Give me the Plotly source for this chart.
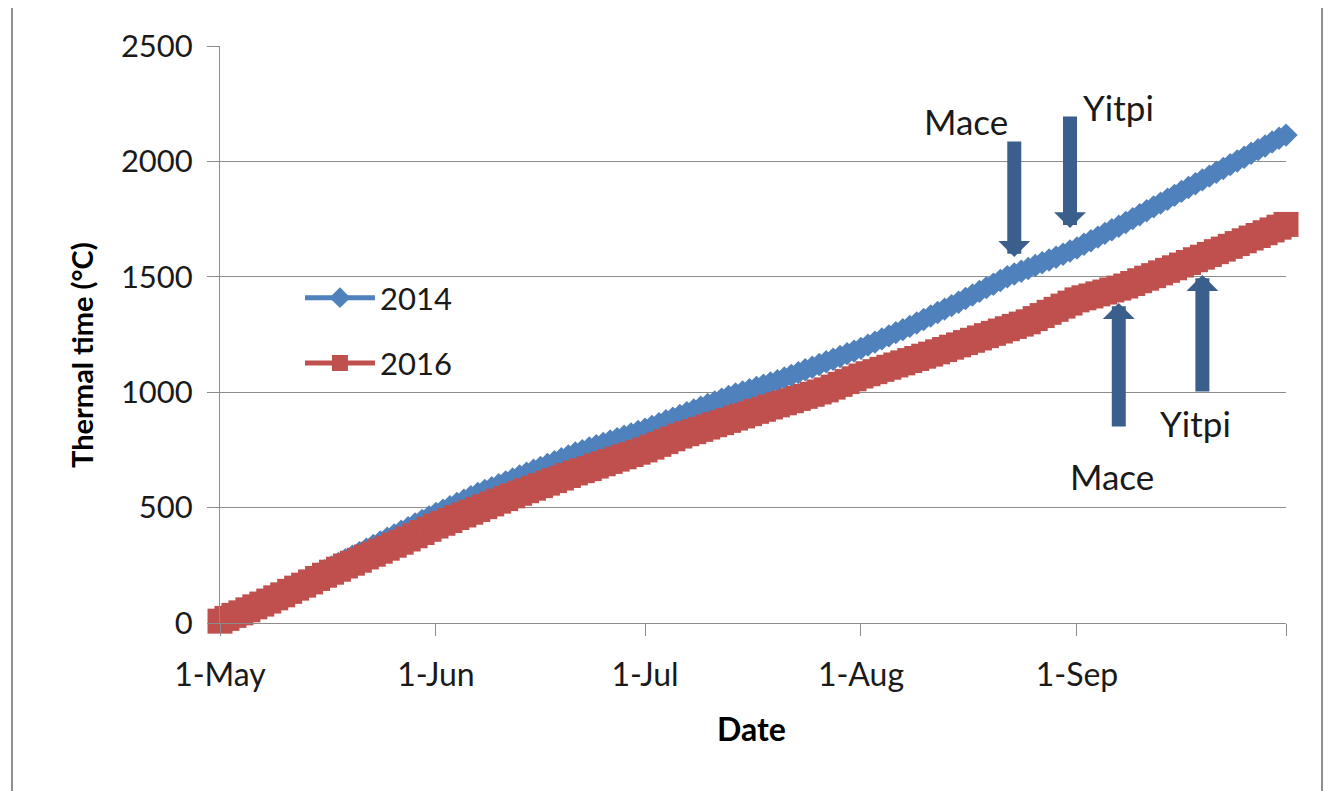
import pandas as pd
import plotly.graph_objects as go

# ---- data (cumulative thermal time, degC days), daily from 1-May to 1-Oct ----
dates = pd.date_range("2014-05-01", "2014-10-01", freq="D")

tt_2014 = [
    # May
    5, 19, 34, 48, 63, 77, 92, 106, 121, 135, 150, 165, 181, 196, 212, 227, 243, 258, 274, 289,
    305, 320, 336, 351, 367, 382, 398, 413, 429, 444, 460,
    # Jun
    475, 489, 504, 518, 532, 547, 561, 574, 586, 599, 611, 624, 637, 649, 662, 674, 687, 699, 712, 724,
    737, 747, 758, 768, 778, 789, 799, 809, 819, 830,
    # Jul
    840, 852, 864, 876, 887, 899, 911, 923, 935, 947, 958, 970, 982, 992, 1001, 1011, 1021, 1030, 1040, 1050,
    1062, 1073, 1085, 1097, 1108, 1120, 1132, 1143, 1155, 1167, 1178,
    # Aug
    1190, 1204, 1217, 1231, 1244, 1258, 1271, 1285, 1300, 1315, 1330, 1345, 1360, 1375, 1390, 1406, 1421, 1437, 1453, 1468,
    1484, 1500, 1512, 1524, 1536, 1549, 1561, 1573, 1585, 1598, 1612,
    # Sep
    1625, 1641, 1656, 1672, 1688, 1704, 1719, 1735, 1752, 1769, 1786, 1803, 1819, 1836, 1853, 1870, 1887, 1903, 1920, 1936,
    1953, 1969, 1986, 2002, 2018, 2035, 2051, 2067, 2084, 2100,
    # Oct
    2114,
]

tt_2016 = [
    # May
    8, 20, 33, 44, 57, 70, 82, 95, 109, 122, 137, 151, 164, 178, 193, 207, 220, 233, 247, 259,
    272, 286, 298, 311, 324, 337, 350, 364, 378, 392, 406,
    # Jun
    420, 432, 444, 457, 468, 480, 492, 504, 516, 528, 539, 551, 562, 573, 584, 595, 606, 617, 628, 639,
    650, 660, 669, 680, 690, 700, 710, 720, 730, 740,
    # Jul
    750, 762, 774, 786, 798, 810, 820, 829, 839, 849, 859, 868, 878, 888, 897, 907, 917, 926, 936, 945,
    954, 963, 973, 982, 991, 1001, 1010, 1022, 1034, 1046, 1058,
    # Aug
    1070, 1080, 1089, 1099, 1108, 1118, 1127, 1137, 1146, 1156, 1165, 1175, 1185, 1195, 1205, 1215, 1225, 1235, 1245, 1255,
    1265, 1275, 1285, 1295, 1305, 1319, 1332, 1346, 1359, 1373, 1386,
    # Sep
    1400, 1409, 1417, 1426, 1434, 1443, 1451, 1460, 1471, 1483, 1494, 1505, 1517, 1528, 1539, 1551, 1562, 1574, 1585, 1597,
    1609, 1620, 1632, 1644, 1656, 1668, 1679, 1691, 1703, 1715,
    # Oct
    1727,
]

tick_dates = ["2014-05-01", "2014-06-01", "2014-07-01", "2014-08-01", "2014-09-01", "2014-10-01"]
tick_labels = ["1-May", "1-Jun", "1-Jul", "1-Aug", "1-Sep", ""]
y_ticks = [0, 500, 1000, 1500, 2000, 2500]

# anthesis arrows: (label, date, tip value, tail value, label date, label value)
arrows_2014 = [
    ("Mace", "2014-08-23", 1586, 2093, "2014-08-16", 2175),
    ("Yitpi", "2014-08-31", 1711, 2201, "2014-09-07", 2236),
]
arrows_2016 = [
    ("Mace", "2014-09-07", 1386, 845, "2014-09-06", 637),
    ("Yitpi", "2014-09-19", 1508, 997, "2014-09-18", 867),
]

BLUE = "#4F81BD"
RED = "#C0504D"
ARROW = "#3A5F8D"
GRID = "#8C8C8C"
FONT = "Lato"

fig = go.Figure()
fig.add_trace(go.Scatter(
    x=dates, y=tt_2014, name="2014", mode="lines+markers",
    line=dict(color=BLUE, width=5),
    marker=dict(symbol="diamond", size=18, color=BLUE),
    cliponaxis=False, legendgroup="a",
))
fig.add_trace(go.Scatter(
    x=dates, y=tt_2016, name="2016", mode="lines+markers",
    line=dict(color=RED, width=5),
    marker=dict(symbol="square", size=25, color=RED),
    cliponaxis=False, legendgroup="b",
))

annotations = []
for lab, d, tip, tail, ld, lv in arrows_2014 + arrows_2016:
    annotations.append(dict(
        x=d, y=tip, xref="x", yref="y", ax=d, ay=tail, axref="x", ayref="y",
        text="", showarrow=True, arrowhead=1, arrowsize=0.38, arrowwidth=14,
        arrowcolor=ARROW, standoff=0,
    ))
    annotations.append(dict(
        x=ld, y=lv, xref="x", yref="y", text=lab, showarrow=False,
        xanchor="center", yanchor="middle",
        font=dict(family=FONT, size=35, color="#1a1a1a"),
    ))

annotations.append(dict(
    x=-0.1295, y=0.4645, xref="paper", yref="paper", text="<b>Thermal time (°C)</b>",
    textangle=-90, showarrow=False, xanchor="center", yanchor="middle",
    font=dict(family=FONT, size=29, color="#000000"),
))
annotations.append(dict(
    x=0.499, y=-0.182, xref="paper", yref="paper", text="<b>Date</b>",
    showarrow=False, xanchor="center", yanchor="middle",
    font=dict(family=FONT, size=32, color="#000000"),
))

fig.update_layout(
    width=1332, height=791,
    margin=dict(l=212, r=54, t=38, b=176),
    paper_bgcolor="white", plot_bgcolor="white",
    font=dict(family=FONT, size=30, color="#1a1a1a"),
    showlegend=True,
    legend=dict(
        x=0.075, y=0.61, xanchor="left", yanchor="top",
        bgcolor="rgba(0,0,0,0)", borderwidth=0,
        itemwidth=70, tracegroupgap=22,
        font=dict(family=FONT, size=31, color="#1a1a1a"),
    ),
    annotations=annotations,
    shapes=[dict(
        type="rect", xref="paper", yref="paper",
        x0=-0.1951, x1=1.0338, y0=-0.45, y1=1.0745,
        line=dict(color="#8F8F8F", width=2), fillcolor="rgba(0,0,0,0)", layer="below",
    )],
)

fig.update_xaxes(
    type="date", range=["2014-05-01", "2014-10-01"],
    tickvals=tick_dates, ticktext=tick_labels,
    ticks="outside", ticklen=12, tickcolor=GRID, tickwidth=1,
    showline=True, linecolor=GRID, linewidth=1,
    showgrid=False, zeroline=False, ticklabelstandoff=12,
    tickfont=dict(family=FONT, size=32, color="#1a1a1a"),
)
fig.update_yaxes(
    range=[0, 2500], tickvals=y_ticks,
    ticks="outside", ticklen=12, tickcolor=GRID, tickwidth=1,
    showline=True, linecolor=GRID, linewidth=1,
    showgrid=True, gridcolor=GRID, gridwidth=1, zeroline=False,
    ticklabelstandoff=8,
    tickfont=dict(family=FONT, size=31, color="#1a1a1a"),
)

fig.write_html("out.html")
